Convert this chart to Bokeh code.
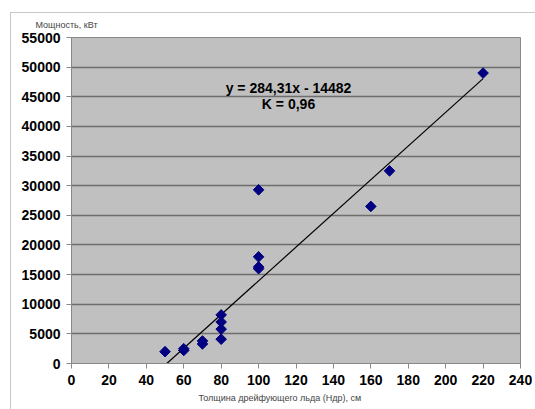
import math
from bokeh.plotting import figure
from bokeh.layouts import column
from bokeh.models import FixedTicker, Label, Range1d, Title
from bokeh.embed import file_html
from bokeh.resources import INLINE

thickness = [50, 60, 60, 70, 70, 80, 80, 80, 80, 100, 100, 100, 100, 160, 170, 220]
power = [2000, 2200, 2500, 3300, 3800, 4100, 5800, 7000, 8200, 16000, 16300, 18000, 29300, 26500, 32500, 49000]
slope = 284.31
intercept = -14482
trend_x = [-intercept / slope, 220]
trend_y = [slope * x + intercept for x in trend_x]
x_ticks = list(range(0, 241, 20))
y_ticks = list(range(0, 55001, 5000))

p = figure(width=525, height=401, output_backend="svg", toolbar_location=None,
           x_range=Range1d(0, 240), y_range=Range1d(0, 55000),
           min_border_left=60, min_border_right=16, min_border_top=25, min_border_bottom=47,
           margin=(-4, 0, 0, 0))

p.background_fill_color = "#c0c0c0"
p.border_fill_alpha = 0
p.outline_line_color = "#8a8a8a"
p.outline_line_width = 1

p.xgrid.grid_line_color = None
p.ygrid.grid_line_color = "#6e6e6e"
p.ygrid.grid_line_width = 1.5
p.xaxis.ticker = FixedTicker(ticks=x_ticks)
p.yaxis.ticker = FixedTicker(ticks=y_ticks)
for ax in (p.xaxis[0], p.yaxis[0]):
    ax.major_label_text_font = "Liberation Sans"
    ax.major_label_text_font_size = "14px"
    ax.major_label_text_font_style = "bold"
    ax.major_label_text_color = "black"
    ax.axis_line_color = "#888888"
    ax.major_tick_line_color = "#888888"
    ax.major_tick_out = 5
    ax.major_tick_in = 0
    ax.minor_tick_line_color = None
p.yaxis.major_label_standoff = 6
p.xaxis.major_label_standoff = 6

top_title = Title(text="Мощность, кВт", align="left", offset=-36, standoff=16,
                  text_font="Liberation Sans", text_font_size="9px", text_font_style="normal")
p.add_layout(top_title, "above")
bottom_title = Title(text="Толщина дрейфующего льда (Hдр), см", align="left", offset=127, standoff=6,
                     text_font="Liberation Sans", text_font_size="9px", text_font_style="normal")
p.add_layout(bottom_title, "below")

p.line(trend_x, trend_y, line_color="black", line_width=1.2)
p.scatter(thickness, power, marker="square", angle=math.pi / 4, size=7.5,
          fill_color="#000080", line_color="#000080")

p.add_layout(Label(x=116, y=46400, text="y = 284,31x - 14482", text_align="center",
                   text_baseline="middle", text_font="Liberation Sans", text_font_size="14px",
                   text_font_style="bold", text_color="black"))
p.add_layout(Label(x=116, y=43700, text="K = 0,96", text_align="center",
                   text_baseline="middle", text_font="Liberation Sans", text_font_size="14px",
                   text_font_style="bold", text_color="black"))

layout = column(p, margin=(12, 0, 0, 10),
                styles={"border-left": "1px solid #c8c8c8", "border-top": "1px solid #c8c8c8",
                        "overflow": "visible"})

open("out.html", "w").write(file_html(layout, INLINE))
